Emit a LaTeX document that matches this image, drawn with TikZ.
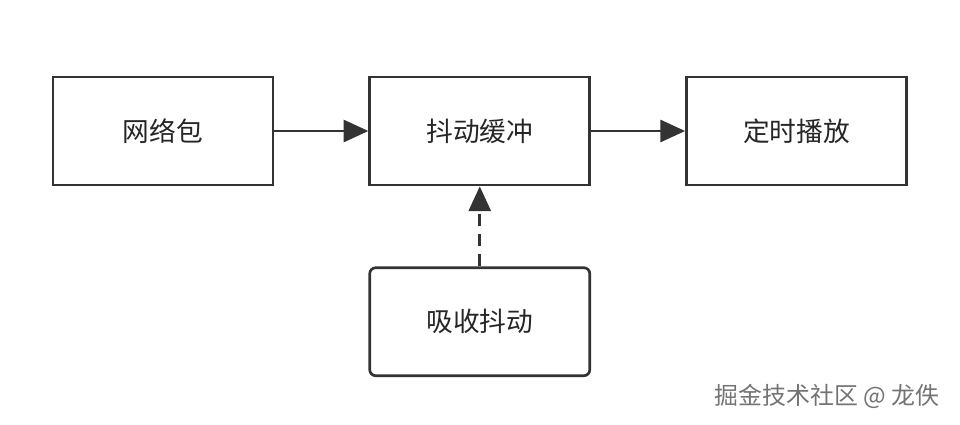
\documentclass[tikz,border=0pt]{standalone}
\usepackage{fontspec}
\newfontfamily\cjk{Noto Sans CJK SC}
\usetikzlibrary{positioning,arrows.meta}

\begin{document}
\begin{tikzpicture}[x=0.025cm, y=-0.025cm,
    box/.style={draw=black!80, line width=1.9pt, minimum width=5.5cm, minimum height=2.7cm,
        text=black!85, font=\cjk\fontsize{19}{19}\selectfont},
    link/.style={draw=black!80, line width=2.1pt, -{Triangle[length=0.62cm, width=0.55cm]}}]
    \useasboundingbox (0,0) rectangle (960,424);
    \node[box] (packet) at (163,131) {网络包};
    \node[box, right=2.35cm of packet] (buffer) {抖动缓冲};
    \node[box, right=2.35cm of buffer] (playout) {定时播放};
    \node[box, rounded corners=0.15cm, below=2.0cm of buffer] (absorb) {吸收抖动};
    \draw[link] (packet) -- (buffer);
    \draw[link] (buffer) -- (playout);
    \draw[link, dash pattern=on 0.3cm off 0.2cm] (absorb) -- (buffer);
    % watermark
    \node[text=black!55, font=\cjk\fontsize{17}{17}\selectfont] (mark) at (827,396) {掘金技术社区 @ 龙佚};
\end{tikzpicture}
\end{document}
